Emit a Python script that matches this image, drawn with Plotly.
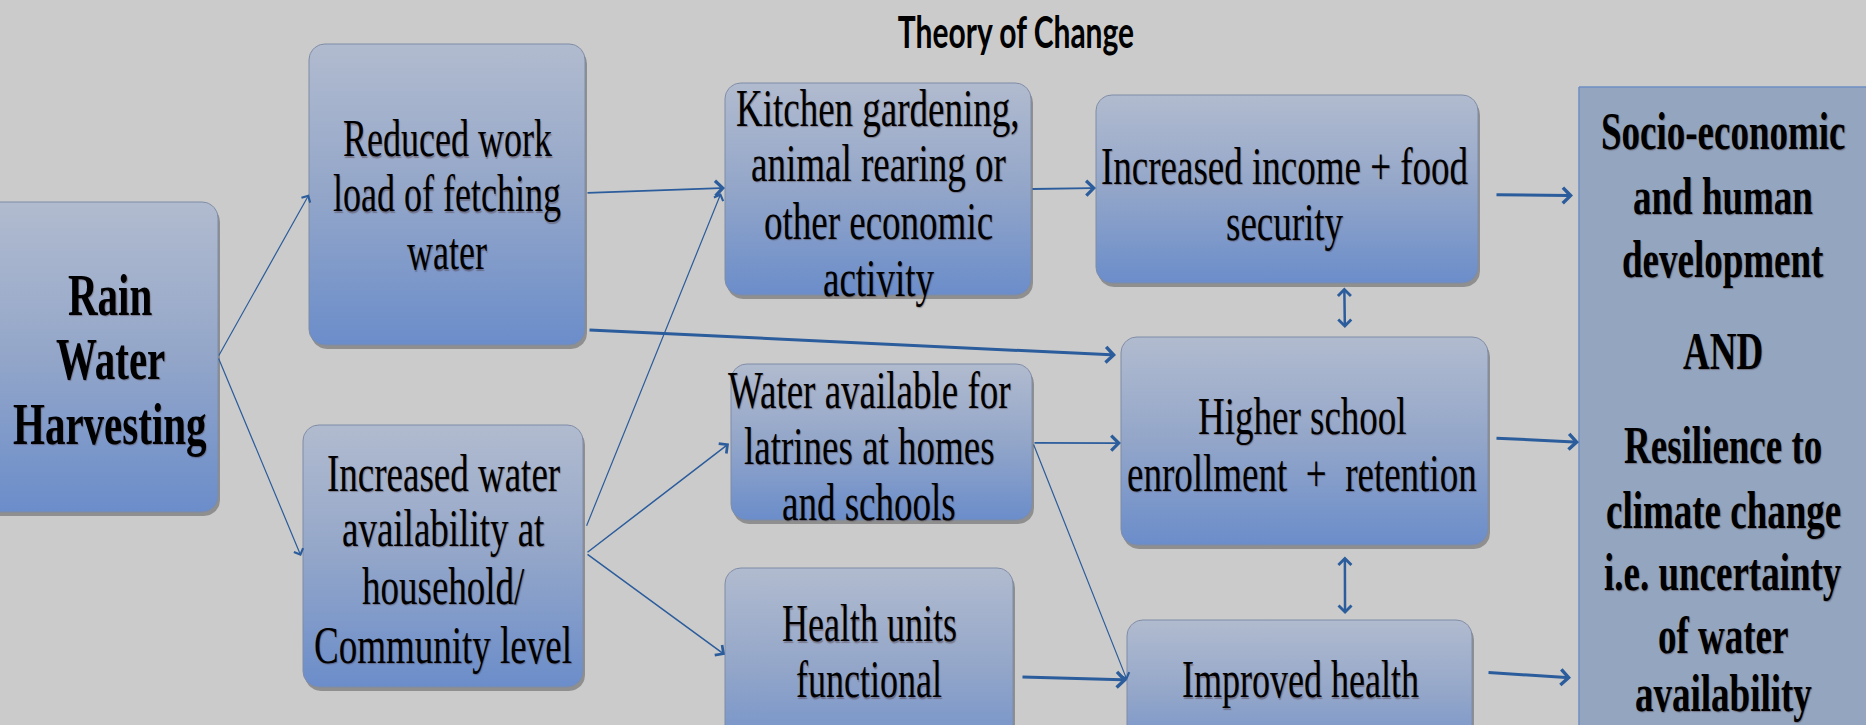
import numpy as np
import plotly.graph_objects as go

W, H = 1866, 725

# ---------------- data ----------------
title_text = "Theory of Change"

node_ids = ["rwh", "work", "water", "kitchen", "latrine", "health_units",
            "income", "school", "health", "outcome"]
node_labels = [
    "Rain<br>Water<br>Harvesting",
    "Reduced work<br>load of fetching<br>water",
    "Increased water<br>availability at<br>household/<br>Community level",
    "Kitchen gardening,<br>animal rearing or<br>other economic<br>activity",
    "Water available for<br>latrines at homes<br>and schools",
    "Health units<br>functional",
    "Increased income + food<br>security",
    "Higher school<br>enrollment \u00a0+ \u00a0retention",
    "Improved health",
    "Socio-economic<br>and human<br>development<br><br>AND<br><br>Resilience to<br>climate change<br>i.e. uncertainty<br>of water<br>availability",
]
node_bold = [True, False, False, False, False, False, False, False, False, True]

edge_sources = ["rwh", "rwh", "work", "work", "water", "water", "water", "kitchen",
                "latrine", "latrine", "health_units", "income", "school", "income",
                "school", "health"]
edge_targets = ["work", "water", "kitchen", "school", "kitchen", "latrine", "health_units",
                "income", "school", "health", "health", "school", "health", "outcome",
                "outcome", "outcome"]
edge_both_ways = [False, False, False, False, False, False, False, False,
                  False, False, False, True, True, False, False, False]

# ---------------- layout (positions / styles) ----------------
box_rect = {  # x0, y0, x1, y1 in pixels, y measured downward
    "rwh": (-20, 202, 218, 512),
    "work": (309, 44, 585, 345),
    "water": (303, 425, 583, 687),
    "kitchen": (725, 83, 1031, 295),
    "latrine": (731, 364, 1032, 520),
    "health_units": (725, 568, 1013, 770),
    "income": (1096, 95, 1478, 283),
    "school": (1121, 337, 1488, 545),
    "health": (1127, 620, 1472, 770),
    "outcome": (1579, 87, 1900, 770),
}
text_pos = {  # text centre x, line centres y, font size
    "rwh": (110, [295, 359, 424], 41),
    "work": (447, [139, 194, 252], 36),
    "water": (443, [472, 527, 585, 644], 37),
    "kitchen": (878, [107, 162, 220, 277], 37),
    "latrine": (869, [389, 445, 501], 37),
    "health_units": (869, [624, 680], 36),
    "income": (1285, [165, 221], 37),
    "school": (1302, [415, 472], 37),
    "health": (1300, [680], 36),
    "outcome": (1723, [130, 195, 258, 350, 444, 509, 571, 634, 692], 37),
}
# source side, fraction, gap, target side, fraction, gap, line width
edge_geom = [
    ("r", 0.50, 0, "l", 0.50, 0, 1.2),
    ("r", 0.50, 0, "l", 0.50, 2, 1.2),
    ("r", 0.495, 1, "l", 0.495, 0, 1.8),
    ("r", 0.95, 3, "l", 0.087, 5, 3.0),
    ("r", 0.39, 3, "l", 0.52, 4, 1.2),
    ("r", 0.49, 3, "l", 0.51, 2, 1.5),
    ("r", 0.49, 3, "l", 0.43, 0, 1.5),
    ("r", 0.50, 0, "l", 0.495, 0, 1.8),
    ("r", 0.506, 1, "l", 0.51, 0, 1.8),
    ("r", 0.506, 1, "l", 0.40, 0, 1.2),
    ("r", 0.54, 8, "l", 0.40, 0, 3.0),
    ("b", 0.65, 3, "t", 0.61, 9, 2.5),
    ("b", 0.61, 10, "t", 0.632, 6, 2.5),
    ("r", 0.53, 17, "l", 0.159, 6, 3.0),
    ("r", 0.486, 7, "l", 0.52, 0, 3.0),
    ("r", 0.35, 15, "l", 0.865, 8, 3.0),
]

BG = "#cbcbcb"
ARROW = "#2b5c9c"
GRAD_TOP = "#b1bbcf"
GRAD_BOTTOM = "#6b8dca"
OUTCOME_FILL = "#93a5bf"
TEXT_STRETCH = 1.45  # the original artwork's lettering is tall and narrow


def Y(py):
    return H - py


def rounded_rect(x0, y0, x1, y1, r, n=12):
    xs, ys = [], []
    if r <= 0:
        pts = [(x0, y0), (x1, y0), (x1, y1), (x0, y1), (x0, y0)]
        return [p[0] for p in pts], [Y(p[1]) for p in pts]
    corners = [((x0 + r, y0 + r), np.pi, 1.5 * np.pi),
               ((x1 - r, y0 + r), 1.5 * np.pi, 2 * np.pi),
               ((x1 - r, y1 - r), 0, 0.5 * np.pi),
               ((x0 + r, y1 - r), 0.5 * np.pi, np.pi)]
    for (cx, cy), a0, a1 in corners:
        t = np.linspace(a0, a1, n)
        xs.extend(cx + r * np.cos(t))
        ys.extend(cy + r * np.sin(t))
    xs.append(xs[0])
    ys.append(ys[0])
    return list(xs), [Y(v) for v in ys]


def anchor(node, side, frac, gap):
    x0, y0, x1, y1 = box_rect[node]
    if side == "r":
        return x1 + gap, y0 + frac * (y1 - y0)
    if side == "l":
        return x0 - gap, y0 + frac * (y1 - y0)
    if side == "b":
        return x0 + frac * (x1 - x0), y1 + gap
    return x0 + frac * (x1 - x0), y0 - gap


fig = go.Figure()

# boxes
for nid in node_ids:
    x0, y0, x1, y1 = box_rect[nid]
    is_outcome = nid == "outcome"
    r = 0 if is_outcome else 16
    if not is_outcome:
        sx, sy = rounded_rect(x0 + 2, y0 + 4, x1 + 2, y1 + 4, r)
        fig.add_trace(go.Scatter(x=sx, y=sy, mode="lines", fill="toself",
                                 fillcolor="rgba(70,70,70,0.45)",
                                 line=dict(width=0), hoverinfo="skip"))
    bx, by = rounded_rect(x0, y0, x1, y1, r)
    if is_outcome:
        fig.add_trace(go.Scatter(x=bx, y=by, mode="lines", fill="toself",
                                 fillcolor=OUTCOME_FILL,
                                 line=dict(color="#6f8fc4", width=1.5),
                                 hoverinfo="skip"))
    else:
        fig.add_trace(go.Scatter(x=bx, y=by, mode="lines", fill="toself",
                                 fillgradient=dict(type="vertical",
                                                   colorscale=[[0, GRAD_BOTTOM], [0.5, "#93a6c9"], [1, GRAD_TOP]],
                                                   start=Y(y1), stop=Y(y0)),
                                 line=dict(color="#7f8ca6", width=1),
                                 hoverinfo="skip"))

annotations = []
# texts
for nid, label, bold in zip(node_ids, node_labels, node_bold):
    tx, line_ys, fs = text_pos[nid]
    lines = [ln for ln in label.split("<br>") if ln]
    for ln, ly in zip(lines, line_ys):
        annotations.append(dict(
            x=tx, y=Y(ly), xref="x", yref="y", showarrow=False,
            text=f"<b>{ln}</b>" if bold else ln,
            xanchor="center", yanchor="middle",
            font=dict(family="Liberation Serif", size=fs, color="#000000",
                      shadow="1px 1px 1px rgba(60,30,30,0.35)")))

# arrows
for src, dst, both, (ss, sf, sg, ds, df, dg, lw) in zip(edge_sources, edge_targets,
                                                       edge_both_ways, edge_geom):
    tx0, ty0 = anchor(src, ss, sf, sg)
    hx, hy = anchor(dst, ds, df, dg)
    annotations.append(dict(
        x=hx, y=Y(hy), ax=tx0, ay=Y(ty0), xref="x", yref="y", axref="x", ayref="y",
        text="", showarrow=True, arrowhead=4, arrowsize=1.6 if lw < 2 else 1.0,
        arrowwidth=lw, arrowcolor=ARROW, standoff=0, startstandoff=0,
        arrowside="end+start" if both else "end", startarrowhead=4,
        startarrowsize=1.0))

fig.update_layout(
    width=W, height=H,
    margin=dict(l=0, r=0, t=0, b=0),
    paper_bgcolor=BG, plot_bgcolor=BG,
    showlegend=False,
    xaxis=dict(range=[0, W], visible=False, fixedrange=True),
    yaxis=dict(range=[0, H], visible=False, fixedrange=True),
    annotations=annotations,
    title=dict(text=f"<b>{title_text}</b>", x=1016 / W, y=1 - 32 / H,
               xanchor="center", yanchor="middle",
               font=dict(family="Lato", size=30, color="#000000")),
)

post = (
    "var s=document.createElement('style');"
    "s.textContent='html,body{margin:0;padding:0;background:%s}"
    ".annotation-text,.gtitle{transform-box:fill-box;transform-origin:center;"
    "transform:scaleY(%s);}';"
    "document.head.appendChild(s);" % (BG, TEXT_STRETCH)
)
fig.write_html("out.html", post_script=post, config={"displayModeBar": False})
